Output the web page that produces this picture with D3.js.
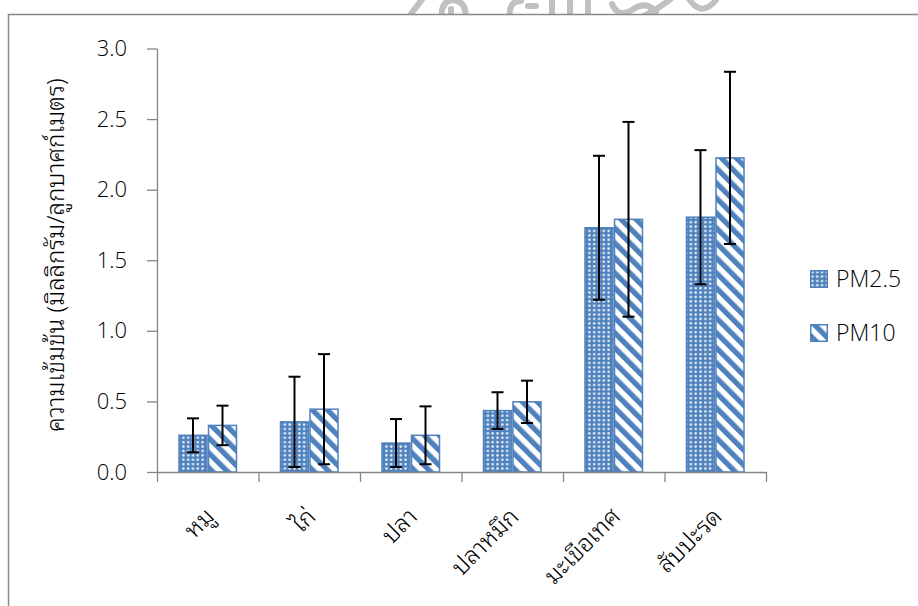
<!DOCTYPE html>
<html>
<head>
<meta charset="utf-8">
<script src="https://cdn.jsdelivr.net/npm/d3@7"></script>
<style>
  html, body { margin: 0; padding: 0; background: #fff; }
  svg { display: block; }
  .thai { font-family: "Noto Sans Thai Looped", "Noto Serif Thai", "Loma", "Garuda", "Kinnari", "Norasi", "Sawasdee", "Tlwg Typo", "Noto Sans Thai", "Noto Sans", sans-serif; font-weight: 300; }
  .num { font-family: "Open Sans", "Noto Sans", sans-serif; font-weight: 300; }
</style>
</head>
<body>
<svg id="chart" width="918" height="606"></svg>
<script>
// Particulate concentration by food type (mg/m³), mean ± SD
const categories = ["หมู", "ไก่", "ปลา", "ปลาหมึก", "มะเขือเทศ", "สับปะรด"];
const seriesNames = ["PM2.5", "PM10"];
const pm25 = [0.26, 0.355, 0.205, 0.435, 1.73, 1.805];
const pm25Err = [0.12, 0.32, 0.17, 0.13, 0.51, 0.475];
const pm10 = [0.33, 0.445, 0.26, 0.497, 1.79, 2.225];
const pm10Err = [0.14, 0.39, 0.205, 0.15, 0.69, 0.61];
const yTicks = [0, 0.5, 1.0, 1.5, 2.0, 2.5, 3.0];
const yTitle = "ความเข้มข้น (มิลลิกรัม/ลูกบาศก์เมตร)";

const values = [pm25, pm10];
const errors = [pm25Err, pm10Err];
const rows = categories.map((c, i) => ({
  cat: c,
  bars: seriesNames.map((s, k) => ({ series: s, k, v: values[k][i], e: errors[k][i] }))
}));

const blue = "#4f81bd";
const axisGrey = "#868686";

const svg = d3.select("#chart");
const defs = svg.append("defs");

// Dotted grid fill for PM2.5
const dots = defs.append("pattern")
  .attr("id", "dots").attr("patternUnits", "userSpaceOnUse")
  .attr("width", 4.8).attr("height", 4.4);
dots.append("rect").attr("width", 4.8).attr("height", 4.4).attr("fill", blue);
dots.append("circle").attr("cx", 2.4).attr("cy", 2.2).attr("r", 1.25)
  .attr("fill", "#e9f0f8");

// Wide downward diagonal fill for PM10
const stripes = defs.append("pattern")
  .attr("id", "stripes").attr("patternUnits", "userSpaceOnUse")
  .attr("width", 10.6).attr("height", 10.6)
  .attr("patternTransform", "rotate(-45)");
stripes.append("rect").attr("width", 10.6).attr("height", 10.6).attr("fill", "#fff");
stripes.append("rect").attr("width", 5.3).attr("height", 10.6).attr("fill", blue);

const fills = ["url(#dots)", "url(#stripes)"];

// Faint emblem strokes peeking above the frame
defs.append("clipPath").attr("id", "topclip")
  .append("rect").attr("x", 0).attr("y", 0).attr("width", 918).attr("height", 14);
const mark = svg.append("g").attr("clip-path", "url(#topclip)")
  .attr("fill", "none").attr("stroke", "#c0c0c0")
  .attr("stroke-width", 6).attr("stroke-linecap", "round");
[
  "M426,-6 L408,18",
  "M442,18 Q440,2 452,0 Q466,0 466,18",
  "M451,18 L451,9",
  "M510,18 Q508,1 521,1",
  "M528,6 L536,6",
  "M552,18 L552,-6 M570,18 L570,-6 M588,18 L588,-6",
  "M612,4 Q618,18 632,10 Q646,0 656,12",
  "M640,18 Q664,6 676,-6",
  "M686,-6 Q700,20 716,0"
].forEach(d => mark.append("path").attr("d", d));

// Outer frame
svg.append("path")
  .attr("d", "M8.5,620 L8.5,14.5 L930,14.5")
  .attr("fill", "none").attr("stroke", "#898989").attr("stroke-width", 1.5);

const plot = { left: 157, right: 766, top: 48.5, bottom: 472 };

const x0 = d3.scaleBand().domain(categories).range([plot.left, plot.right]).padding(0);
const x1 = d3.scaleBand().domain(seriesNames).range([0, x0.bandwidth()])
  .paddingInner(0).paddingOuter(0.72);
const y = d3.scaleLinear().domain([0, 3]).range([plot.bottom, plot.top]);
const idx = d3.scaleLinear().domain([0, categories.length]).range([plot.left, plot.right]);

// Bars
const groups = svg.append("g").selectAll("g").data(rows).join("g")
  .attr("transform", d => `translate(${x0(d.cat)},0)`);

groups.selectAll("rect").data(d => d.bars).join("rect")
  .attr("x", d => x1(d.series) + 0.75)
  .attr("y", d => y(d.v))
  .attr("width", x1.bandwidth() - 1.5)
  .attr("height", d => y(0) - y(d.v))
  .attr("fill", d => fills[d.k])
  .attr("stroke", blue).attr("stroke-width", 1.5);

// Y axis
const yAxis = svg.append("g").attr("transform", `translate(${plot.left},0)`)
  .call(d3.axisLeft(y).tickValues(yTicks).tickFormat(d3.format(".1f"))
    .tickSize(10).tickSizeOuter(0).tickPadding(20));
yAxis.select(".domain").attr("stroke", axisGrey).attr("stroke-width", 1.3);
yAxis.selectAll(".tick line").attr("stroke", axisGrey).attr("stroke-width", 1.3);
yAxis.selectAll(".tick text").attr("class", "num").attr("font-size", 22)
  .attr("fill", "#000");

// X axis with ticks between categories
const xAxis = svg.append("g").attr("transform", `translate(0,${plot.bottom})`)
  .call(d3.axisBottom(idx).tickValues(d3.range(categories.length + 1))
    .tickFormat("").tickSize(10).tickSizeOuter(0));
xAxis.select(".domain").attr("stroke", axisGrey).attr("stroke-width", 1.3);
xAxis.selectAll(".tick line").attr("stroke", axisGrey).attr("stroke-width", 1.3);

// Category labels, slanted
svg.append("g").selectAll("text").data(categories).join("text")
  .attr("class", "thai")
  .attr("font-size", 24)
  .attr("text-anchor", "end")
  .attr("transform", d => `translate(${x0(d) + x0.bandwidth() / 2 + 8},${plot.bottom + 46}) rotate(-45)`)
  .text(d => d);

// Error bars
const err = groups.selectAll("g.err").data(d => d.bars).join("g")
  .attr("class", "err")
  .attr("stroke", "#000").attr("stroke-width", 2);
const cx = d => x1(d.series) + x1.bandwidth() / 2;
err.append("line")
  .attr("x1", cx).attr("x2", cx)
  .attr("y1", d => y(d.v + d.e)).attr("y2", d => y(d.v - d.e));
err.append("line")
  .attr("x1", d => cx(d) - 6).attr("x2", d => cx(d) + 6)
  .attr("y1", d => y(d.v + d.e)).attr("y2", d => y(d.v + d.e));
err.append("line")
  .attr("x1", d => cx(d) - 6).attr("x2", d => cx(d) + 6)
  .attr("y1", d => y(d.v - d.e)).attr("y2", d => y(d.v - d.e));

// Y title
svg.append("text").attr("class", "thai")
  .attr("font-size", 24)
  .attr("text-anchor", "middle")
  .attr("transform", `translate(64,${(plot.top + plot.bottom) / 2 - 5}) rotate(-90)`)
  .text(yTitle);

// Legend
const legend = svg.append("g").attr("transform", "translate(810,270)");
const li = legend.selectAll("g").data(seriesNames).join("g")
  .attr("transform", (d, i) => `translate(0,${i * 54})`);
li.append("rect").attr("x", 0.75).attr("y", 0.75).attr("width", 16.5).attr("height", 16.5)
  .attr("fill", (d, i) => fills[i]).attr("stroke", blue).attr("stroke-width", 1.5);
li.append("text").attr("class", "num").attr("x", 26).attr("y", 9)
  .attr("dy", "0.36em").attr("font-size", 23).text(d => d);
</script>
</body>
</html>
